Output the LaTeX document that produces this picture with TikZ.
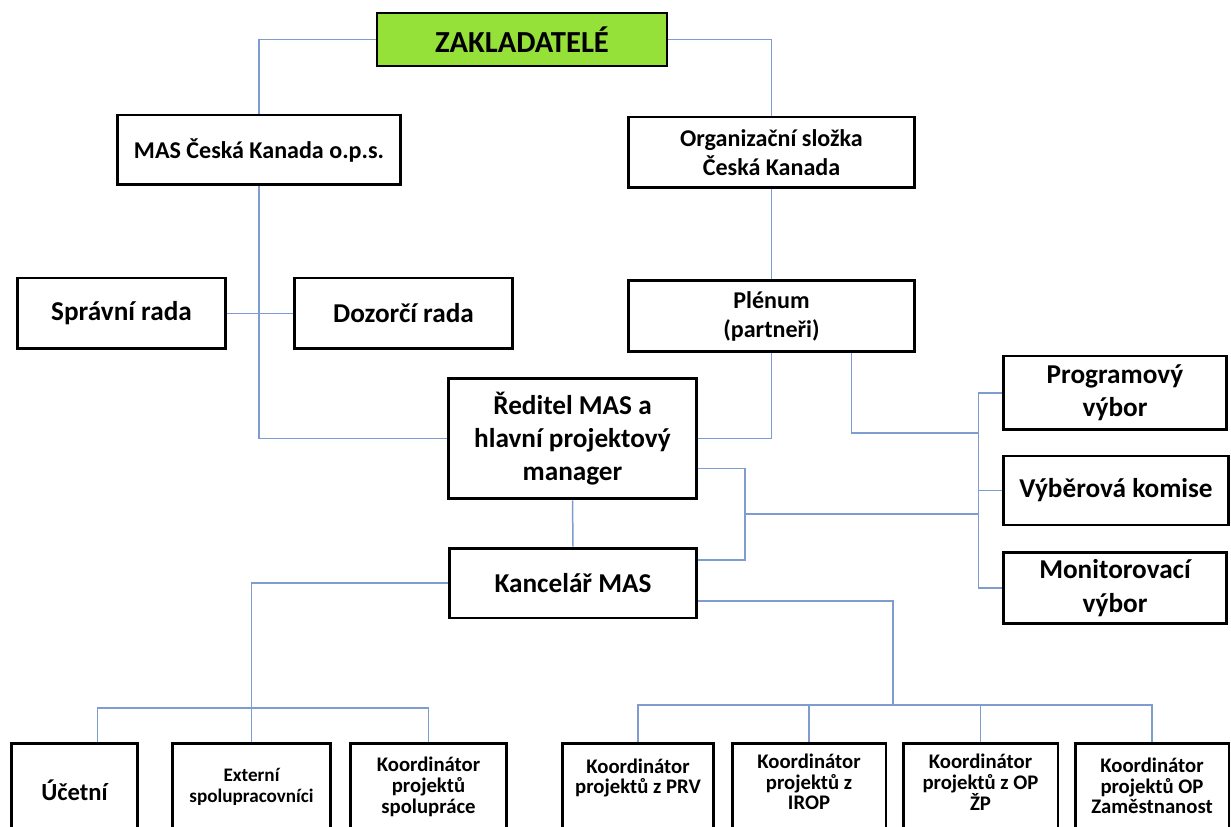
\documentclass[tikz,border=0pt]{standalone}
\usepackage{fontspec}
\setmainfont{Carlito}
\usepackage{tikz}
\usetikzlibrary{calc,positioning}
\definecolor{linkblue}{HTML}{7E9CCF}
\definecolor{founder}{HTML}{96E03A}
\tikzset{
  box/.style={draw=black, line width=1.7pt, fill=white, align=center, inner sep=0pt, font=\bfseries\fontsize{15.5}{19}\selectfont},
  boxm/.style={box, font=\bfseries\fontsize{13.7}{16.5}\selectfont},
  lowbox/.style={draw=black, line width=1.7pt, fill=white, anchor=north, minimum height=2.4cm},
  lowtxt/.style={align=center, inner sep=0pt, font=\bfseries\fontsize{11.8}{11.8}\selectfont},
  conn/.style={draw=linkblue, line width=0.85pt},
}
\begin{document}
\begin{tikzpicture}[x=0.02cm, y=-0.02cm]
\useasboundingbox (0,0) rectangle (1231,827);
\clip (0,0) rectangle (1231,827);

% upper part
\node[box, fill=founder, line width=1.2pt, minimum width=5.8cm, minimum height=1.06cm, font=\bfseries\fontsize{17.4}{20}\selectfont] (zakl) at (522,39.5) {ZAKLADATELÉ};
\node[boxm, minimum width=5.68cm, minimum height=1.4cm] (mas) at (259,150) {MAS Česká Kanada o.p.s.};
\node[boxm, minimum width=5.74cm, minimum height=1.42cm] (org) at (771.5,152.5) {Organizační složka\\Česká Kanada};
\node[box, minimum width=4.18cm, minimum height=1.42cm] (spravni) at (121.5,313.5) {Správní rada};
\node[box, minimum width=4.38cm, minimum height=1.42cm] (dozorci) at (403.5,313.5) {Dozorčí rada};
\node[boxm, minimum width=5.74cm, minimum height=1.42cm] (plenum) at (771.5,316) {Plénum\\(partneři)};
\node[box, minimum width=4.98cm, minimum height=2.42cm] (reditel) at (572.5,438.5) {Ředitel MAS a\\hlavní projektový\\manager};
\node[box, minimum width=4.96cm, minimum height=1.4cm] (kancelar) at (573,583) {Kancelář MAS};

% committees
\node[box, minimum width=4.48cm, minimum height=1.48cm] (program) at (1115,393) {Programový\\výbor};
\node[box, minimum width=4.52cm, minimum height=1.38cm] (vyber) at (1116,490.5) {Výběrová komise};
\node[box, minimum width=4.48cm, minimum height=1.42cm] (monitor) at (1115,588) {Monitorovací\\výbor};

% staff row
\node[lowbox, minimum width=2.54cm] (ucet) at (74.5,742) {};
\node[lowbox, minimum width=3.18cm] (ext) at (251.5,742) {};
\node[lowbox, minimum width=3.14cm] (spol) at (428.5,742) {};
\node[lowbox, minimum width=3.04cm] (prv) at (638,742) {};
\node[lowbox, minimum width=3.08cm] (irop) at (809,742) {};
\node[lowbox, minimum width=3.10cm] (zp) at (980.5,742) {};
\node[lowbox, minimum width=3.08cm] (zam) at (1152,742) {};
\node[lowtxt, font=\bfseries\fontsize{14}{16}\selectfont] (ucett) at ($(ucet.north)+(0,48)$) {Účetní};
\node[lowtxt, font=\bfseries\fontsize{10.9}{12}\selectfont] (extt) at ($(ext.north)+(0,45)$) {Externí\\spolupracovníci};
\node[lowtxt] (spolt) at ($(spol.north)+(0,45)$) {Koordinátor\\projektů\\spolupráce};
\node[lowtxt] (prvt) at ($(prv.north)+(0,36)$) {Koordinátor\\projektů z PRV};
\node[lowtxt] (iropt) at ($(irop.north)+(0,40)$) {Koordinátor\\projektů z\\IROP};
\node[lowtxt] (zpt) at ($(zp.north)+(0,40)$) {Koordinátor\\projektů z OP\\ŽP};
\node[lowtxt] (zamt) at ($(zam.north)+(0,44)$) {Koordinátor\\projektů OP\\Zaměstnanost};

% connectors
\draw[conn] (zakl.west) -| (mas.north);
\draw[conn] (zakl.east) -| (org.north);
\draw[conn] (org.south) -- (plenum.north);
\draw[conn] (spravni.east) -- (dozorci.west);
\draw[conn] (mas.south) |- (reditel.west);
\draw[conn] (plenum.south) |- (reditel.east);
\coordinate (pout) at ($(plenum.south)+(80,0)$);
\coordinate (cbus) at ($(program.west)+(-23,40)$);
\draw[conn] (pout) |- (cbus);
\draw[conn] (program.west) -- ++(-23,0) |- (monitor.west);
\draw[conn] (vyber.west) -- ++(-23,0);
\draw[conn] (reditel.south) -- (kancelar.north);
\coordinate (kjoin) at (745,514);
\draw[conn] ($(reditel.east)+(0,30)$) -| (kjoin) |- ($(kancelar.east)+(0,-23)$);
\draw[conn] (kjoin) -- (kjoin -| cbus);
\draw[conn] (kancelar.west) -| (ext.north);
\draw[conn] ($(ucet.north)+(23,0)$) -- ++(0,-34) -| (spol.north);
\coordinate (rjoin) at (893,705);
\draw[conn] ($(kancelar.east)+(0,18)$) -| (rjoin);
\draw[conn] (prv.north) -- ++(0,-37) -| (zam.north);
\draw[conn] (irop.north) -- ++(0,-37);
\draw[conn] (zp.north) -- ++(0,-37);
\end{tikzpicture}
\end{document}
